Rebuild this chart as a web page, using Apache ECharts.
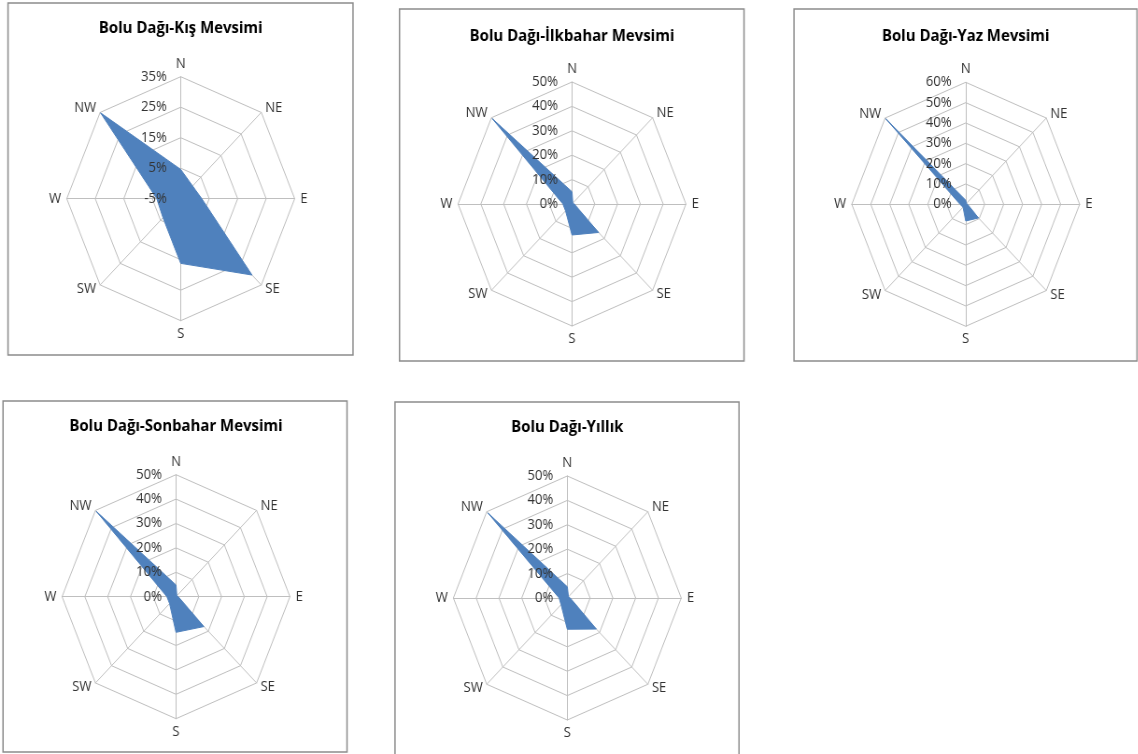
<!DOCTYPE html>
<html>
<head>
<meta charset="utf-8">
<script src="https://cdn.jsdelivr.net/npm/echarts@6/dist/echarts.min.js"></script>
<style>
  html, body { margin: 0; padding: 0; background: #fff; overflow: hidden; width: 1138px; height: 754px; }
  /* the panels are drawn slightly narrower than tall */
  #chart { width: 1219px; height: 754px; transform: scaleX(0.934); transform-origin: 0 0; }
</style>
</head>
<body>
<div id="chart"></div>
<script>
// Wind directions, clockwise from north
const directions = ['N', 'NE', 'E', 'SE', 'S', 'SW', 'W', 'NW'];

const titles = [
  'Bolu Dağı-Kış Mevsimi',
  'Bolu Dağı-İlkbahar Mevsimi',
  'Bolu Dağı-Yaz Mevsimi',
  'Bolu Dağı-Sonbahar Mevsimi',
  'Bolu Dağı-Yıllık'
];

// Direction frequencies (%), ordered N, NE, E, SE, S, SW, W, NW
const kis      = [4.6, 0.9, 2.4, 30.4, 16.2, 3.8, 3.4, 34.8];
const ilkbahar = [5.0, 0.5, 1.0, 16.5, 12.7, 4.0, 4.0, 49.5];
const yaz      = [2.0, 0.5, 1.0, 9.5, 8.2, 2.0, 3.0, 59.5];
const sonbahar = [4.8, 0.5, 1.0, 17.3, 14.6, 4.0, 4.0, 49.5];
const yillik   = [4.6, 0.7, 1.3, 18.0, 12.8, 3.9, 3.6, 49.3];

// Radial scale of each panel
const axisMin  = [-5, 0, 0, 0, 0];
const axisMax  = [35, 50, 60, 50, 50];
const axisStep = [10, 10, 10, 10, 10];

const seriesValues = [kis, ilkbahar, yaz, sonbahar, yillik];

// Panel geometry (page pixels)
const SX = 0.934;
const centers = [[180.7, 198.7], [572, 204], [965.7, 204.3], [176, 596.7], [567.3, 598]];
const frames  = [[8, 3, 353, 355], [399.5, 9, 744, 361], [794, 9, 1137, 361], [3, 401, 347, 752], [395, 402, 739, 757]];
const titleTops = [20.5, 28, 28, 418.5, 419.5];
const RADIUS = 122;

const LABEL_FONT = 'Open Sans';
const LABEL_COLOR = '#333333';
const LABEL_SIZE = 14;
const GRID_COLOR = '#bfbfbf';
const FILL = '#4f81bd';

// ECharts lays radar indicators out counter-clockwise; this order puts them clockwise
const order = [0, 7, 6, 5, 4, 3, 2, 1];

const radars = [];
const series = [];
const titleList = [];
const graphics = [];

seriesValues.forEach((vals, p) => {
  const cx = centers[p][0] / SX;
  const cy = centers[p][1];
  const split = (axisMax[p] - axisMin[p]) / axisStep[p];

  // grid radar: rings, spokes and direction names
  radars.push({
    center: [cx, cy],
    radius: RADIUS,
    startAngle: 90,
    shape: 'polygon',
    splitNumber: split,
    indicator: order.map(k => ({ name: directions[k], min: axisMin[p], max: axisMax[p] })),
    axisName: { color: LABEL_COLOR, fontFamily: LABEL_FONT, fontSize: LABEL_SIZE },
    nameGap: 6,
    axisLine: { lineStyle: { color: GRID_COLOR, width: 1 } },
    splitLine: { lineStyle: { color: GRID_COLOR, width: 1 } },
    splitArea: { show: false },
    axisTick: { show: false },
    axisLabel: { show: false },
    z: 0
  });

  // label radar: percentage labels on the north spoke, drawn above the fill
  radars.push({
    center: [cx, cy],
    radius: RADIUS,
    startAngle: 90,
    shape: 'polygon',
    splitNumber: split,
    indicator: order.map(k => ({
      name: directions[k], min: axisMin[p], max: axisMax[p],
      axisLabel: k === 0
        ? { show: true, formatter: '{value}%', color: LABEL_COLOR, fontFamily: LABEL_FONT, fontSize: LABEL_SIZE, margin: 15 }
        : { show: false }
    })),
    axisName: { show: false },
    axisLine: { show: false },
    splitLine: { show: false },
    splitArea: { show: false },
    axisTick: { show: false },
    axisLabel: { show: false },
    z: 10
  });

  series.push({
    type: 'radar',
    radarIndex: p * 2,
    symbol: 'none',
    silent: true,
    z: 2,
    lineStyle: { color: FILL, width: 1 },
    areaStyle: { color: FILL, opacity: 1 },
    data: [{ value: order.map(k => vals[k]), name: titles[p] }]
  });

  titleList.push({
    text: titles[p],
    left: cx,
    top: titleTops[p],
    textAlign: 'center',
    padding: 0,
    textStyle: { fontFamily: LABEL_FONT, fontWeight: 'bold', fontSize: 16, color: '#000' }
  });

  const f = frames[p];
  graphics.push({
    type: 'rect',
    silent: true,
    shape: { x: f[0] / SX, y: f[1], width: (f[2] - f[0]) / SX, height: f[3] - f[1] },
    style: { fill: null, stroke: '#8c8c8c', lineWidth: 1.5 },
    z: 100
  });
});

const chart = echarts.init(document.getElementById('chart'), null, { renderer: 'canvas' });
chart.setOption({
  animation: false,
  backgroundColor: '#fff',
  title: titleList,
  radar: radars,
  series: series,
  graphic: graphics
});
</script>
</body>
</html>
